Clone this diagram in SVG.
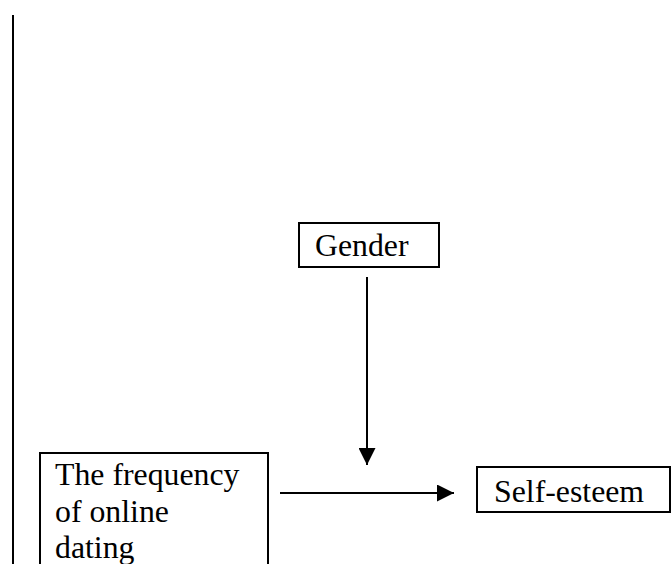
<svg xmlns="http://www.w3.org/2000/svg" width="672" height="564" viewBox="0 0 672 564">
<defs>
<style>
.box{fill:#fff;stroke:#000;stroke-width:2}
.t{font-family:"Liberation Serif","Times New Roman",serif;font-size:31.8px;fill:#000}
.ln{stroke:#000;stroke-width:2;fill:none}
</style>
<marker id="ah2" markerWidth="17" markerHeight="17" refX="17" refY="8.5" orient="auto" markerUnits="userSpaceOnUse" viewBox="0 0 17 17">
<path d="M0,0 L17,8.5 L0,17 Z" fill="#000"/>
</marker>
</defs>
<rect width="672" height="564" fill="#fff"/>
<line x1="13" y1="15" x2="13" y2="564" stroke="#000" stroke-width="2"/>
<g id="gender">
<rect class="box" x="299" y="223" width="140" height="44"/>
<text class="t" x="315" y="256">Gender</text>
</g>
<g id="frequency">
<rect class="box" x="40" y="453" width="228" height="120"/>
<text class="t" x="55" y="485">The frequency</text>
<text class="t" x="55" y="522">of online</text>
<text class="t" x="55" y="558">dating</text>
</g>
<g id="selfesteem">
<rect class="box" x="477" y="467" width="193" height="45"/>
<text class="t" x="494" y="502">Self-esteem</text>
</g>
<g id="connectors">
<line class="ln" x1="367" y1="277" x2="367" y2="465" marker-end="url(#ah2)"/>
<line class="ln" x1="280" y1="493" x2="454" y2="493" marker-end="url(#ah2)"/>
</g>
</svg>
